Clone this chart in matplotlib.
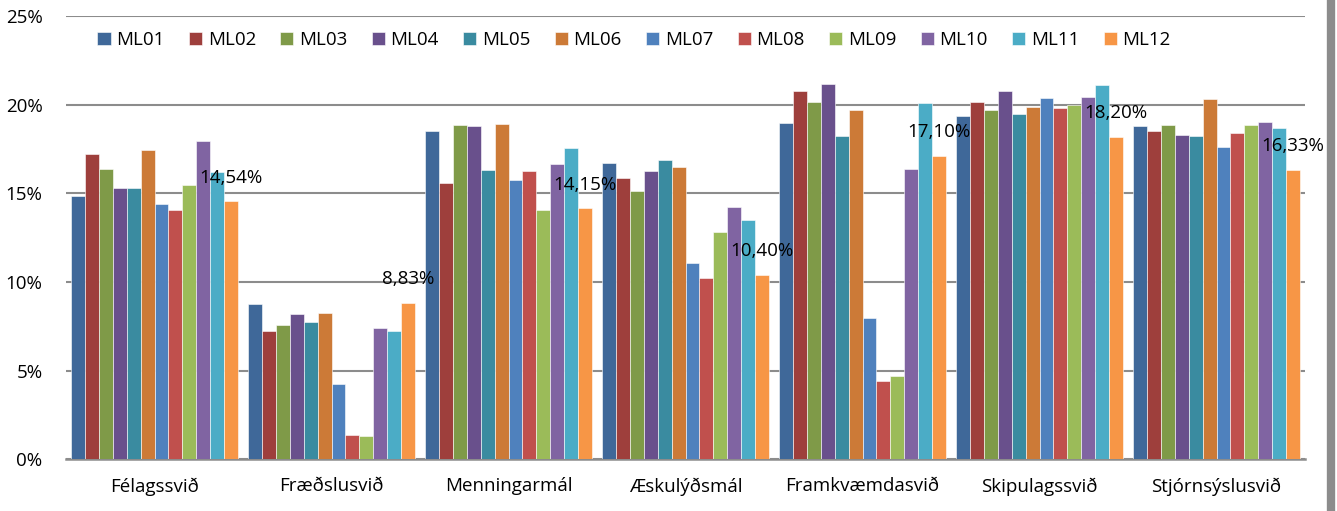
import numpy as np
import matplotlib
matplotlib.use("Agg")
import matplotlib.pyplot as plt
from matplotlib.lines import Line2D

plt.rcParams['font.family'] = ['Open Sans', 'DejaVu Sans']

categories = ["Félagssvið", "Fræðslusvið", "Menningarmál", "Æskulýðsmál",
              "Framkvæmdasvið", "Skipulagssvið", "Stjórnsýslusvið"]
series = ["ML01", "ML02", "ML03", "ML04", "ML05", "ML06",
          "ML07", "ML08", "ML09", "ML10", "ML11", "ML12"]

# values in percent, one list per series (across the 7 categories)
ML01 = [14.85, 8.76, 18.52, 16.69, 18.97, 19.36, 18.82]
ML02 = [17.20, 7.22, 15.58, 15.85, 20.77, 20.13, 18.52]
ML03 = [16.39, 7.56, 18.83, 15.11, 20.13, 19.68, 18.83]
ML04 = [15.32, 8.20, 18.78, 16.24, 21.17, 20.77, 18.27]
ML05 = [15.32, 7.74, 16.33, 16.86, 18.23, 19.49, 18.23]
ML06 = [17.44, 8.27, 18.89, 16.48, 19.70, 19.85, 20.30]
ML07 = [14.40, 4.23, 15.75, 11.09, 7.99, 20.38, 17.61]
ML08 = [14.06, 1.35, 16.26, 10.21, 4.44, 19.81, 18.38]
ML09 = [15.45, 1.32, 14.08, 12.82, 4.72, 20.00, 18.85]
ML10 = [17.97, 7.39, 16.64, 14.21, 16.39, 20.41, 19.02]
ML11 = [16.20, 7.24, 17.54, 13.48, 20.08, 21.11, 18.70]
ML12 = [14.54, 8.83, 14.15, 10.40, 17.10, 18.20, 16.33]
values = [ML01, ML02, ML03, ML04, ML05, ML06, ML07, ML08, ML09, ML10, ML11, ML12]
labels_ml12 = ["14,54%", "8,83%", "14,15%", "10,40%", "17,10%", "18,20%", "16,33%"]

colors = ["#3F6899", "#9E3F3C", "#7F9A48", "#69508C", "#3A8BA0", "#CC7A37",
          "#4F81BD", "#C0504D", "#9BBB59", "#8064A2", "#4BACC6", "#F79646"]

fig = plt.figure(figsize=(13.37, 5.11), dpi=100)
ax = fig.add_axes([66/1337, 1 - 459.3/511, (1305 - 66)/1337, (459.3 - 16)/511])

x = np.arange(len(categories))
n = len(series)
group_w = 0.94
w = group_w / n
for i, (name, vals) in enumerate(zip(series, values)):
    pos = x - group_w/2 + w*(i + 0.5)
    bars = ax.bar(pos, vals, width=w, color=colors[i], label=name,
                  edgecolor='white', linewidth=0.4, zorder=3)
    if name == "ML12":
        for b, lab in zip(bars, labels_ml12):
            ax.annotate(lab, (b.get_x() + b.get_width()/2, b.get_height()),
                        xytext=(0, 17), textcoords='offset points',
                        ha='center', va='center', fontsize=13.5, color='black', zorder=5)

ax.set_xlim(-0.5, len(categories) - 0.5)
ax.set_ylim(0, 25)
ax.set_yticks([0, 5, 10, 15, 20, 25])
ax.set_yticklabels(["0%", "5%", "10%", "15%", "20%", "25%"])
ax.set_xticks(x)
ax.set_xticklabels(categories)
ax.tick_params(axis='both', length=0, labelsize=13.5, colors='black')
ax.tick_params(axis='y', pad=17)
ax.tick_params(axis='x', pad=13)
ax.yaxis.grid(True, color='#8C8C8C', linewidth=1.5, zorder=0)
ax.set_axisbelow(True)
for s in ['top', 'right', 'left']:
    ax.spines[s].set_visible(False)
ax.spines['bottom'].set_color('#8C8C8C')
ax.spines['bottom'].set_linewidth(1.8)

ax.legend(loc='center', bbox_to_anchor=(634/1337, 1 - 40/511), bbox_transform=fig.transFigure,
          ncol=12, frameon=False, fontsize=13.5, handlelength=0.7, handleheight=0.7,
          handletextpad=0.3, columnspacing=1.3)

# gray border at right edge
fig.add_artist(Line2D([1331/1337, 1331/1337], [0, 1], color='#8C8C8C', linewidth=6,
                      transform=fig.transFigure))

fig.savefig("out.png", dpi=100)
